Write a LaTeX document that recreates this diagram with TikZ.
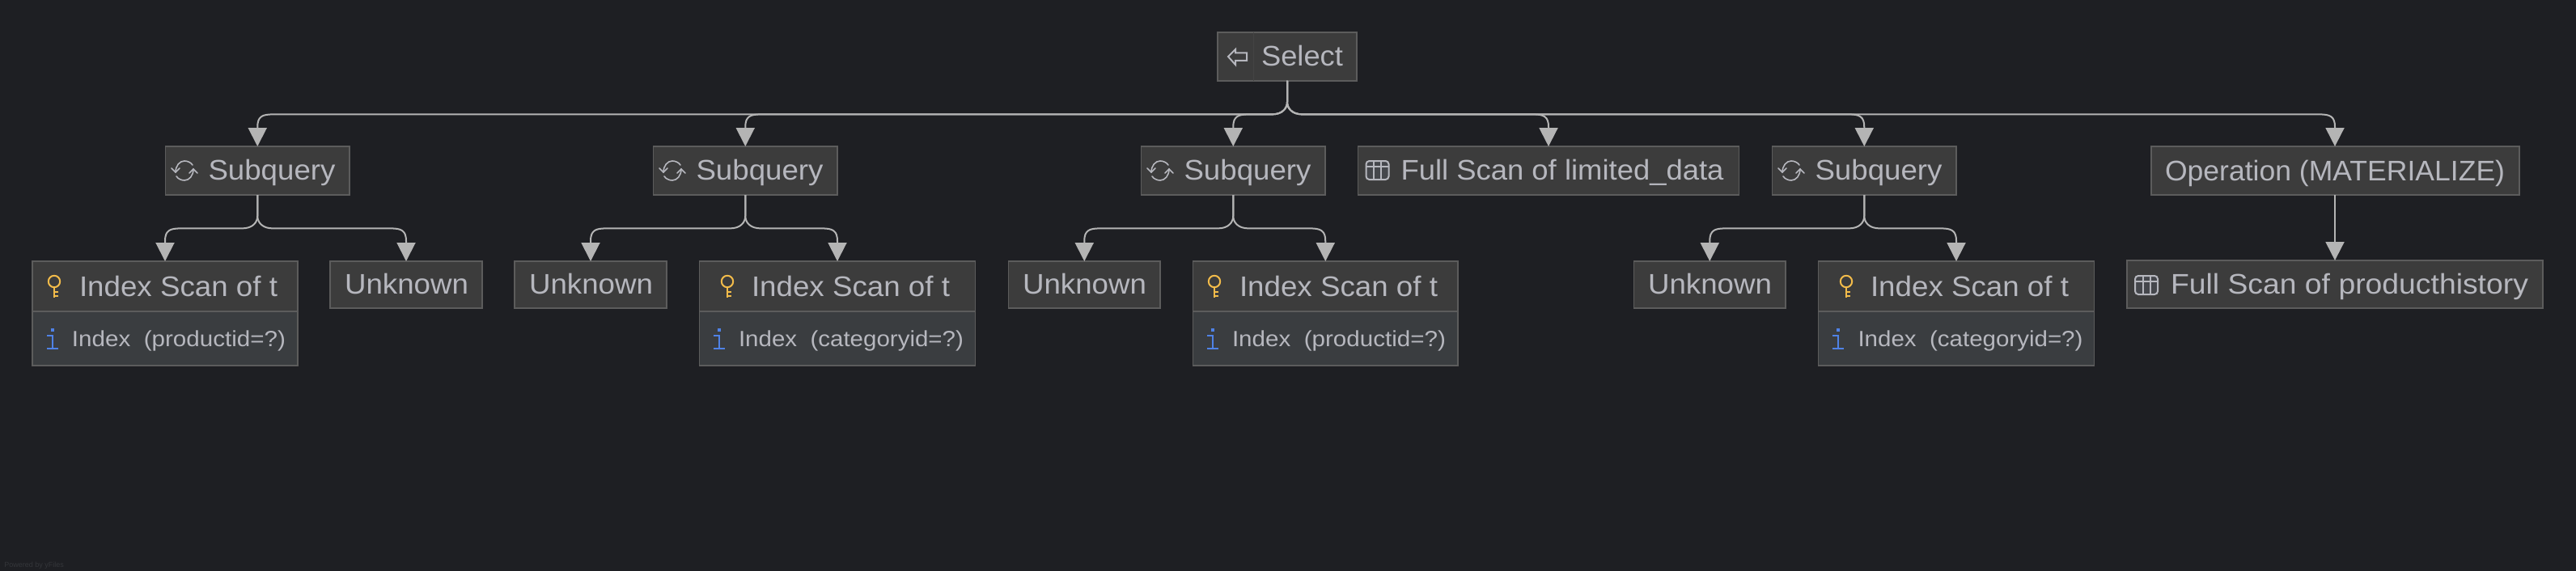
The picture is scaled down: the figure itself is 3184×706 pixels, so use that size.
\documentclass[tikz,border=0pt]{standalone}
\usepackage{graphicx}
\usepackage{fontspec}
\setmainfont{Liberation Sans}
\usetikzlibrary{arrows.meta,calc}
\definecolor{bgc}{HTML}{1E1F23}
\definecolor{boxc}{HTML}{3C3C3C}
\definecolor{subc}{HTML}{3A3D40}
\definecolor{linec}{HTML}{5C5C5C}
\definecolor{divc}{HTML}{6C6C6C}
\definecolor{txtc}{HTML}{B6B7BE}
\definecolor{edgec}{HTML}{B4B4B4}
\definecolor{keyc}{HTML}{F2BB4A}
\definecolor{infoc}{HTML}{4F82E6}
\definecolor{footc}{HTML}{34363A}
\definecolor{iconfill}{HTML}{45474C}
\newsavebox{\fitbox}
\newcommand{\fit}[2]{\sbox{\fitbox}{#2}\pgfmathsetmacro{\fitr}{(#1*0.5)/\wd\fitbox}\scalebox{\fitr}[1]{#2}}
\newcommand{\bx}[9]{%
 \pgfmathsetmacro{\bw}{(#4-#3)*0.5}\pgfmathsetmacro{\bh}{(#6-#5)*0.5}%
 \pgfmathsetmacro{\bd}{(#6-#8)*0.5}\pgfmathsetmacro{\bp}{(#7-#3)*0.5}%
 \node[#1] (#2) at (#3,#5) {\makebox[\bw pt][l]{\rule[-\bd pt]{0pt}{\bh pt}\hspace*{\bp pt}#9}};}
\newcommand{\edge}[2]{%
 \draw[edgeline] let \p1=(#1.south),\p2=(#2.north),\n1={ifthenelse(\x2>\x1,1,-1)} in
  (\p1) -- (\x1,\y1-13pt)
  .. controls (\x1,\y1-17pt) and ({\x1+\n1*3pt},\y1-20.7pt) .. ({\x1+\n1*9.5pt},\y1-20.7pt)
  -- ({\x2-\n1*9.5pt},\y1-20.7pt)
  .. controls ({\x2-\n1*3pt},\y1-20.7pt) and (\x2,\y1-22pt) .. (\x2,\y1-28.5pt)
  -- (\p2);}
\newcommand{\keyicon}[2]{\begin{scope}[shift={(#1,#2)},line width=1pt]
  \draw[keyc] (0,0) circle[radius=7.2];
  \draw[keyc] (0,7.2) -- (0,20) (0,13) -- (5,13) (0,18) -- (5,18);
 \end{scope}}
\newcommand{\infoicon}[2]{\begin{scope}[shift={(#1,#2)},line width=1pt]
  \fill[infoc] (4.5,0) rectangle (8.5,3.5);
  \draw[infoc] (0,8.5) -- (7,8.5) -- (7,25) (0,25) -- (14,25);
 \end{scope}}
\newcommand{\tableicon}[2]{\begin{scope}[shift={(#1,#2)},line width=1pt]
  \draw[fill=iconfill,draw=txtc,rounded corners=2pt] (0,0) rectangle (28,23);
  \draw[txtc] (0,7) -- (28,7) (9.5,0) -- (9.5,23) (18.5,0) -- (18.5,23);
 \end{scope}}
\newcommand{\syncicon}[2]{\begin{scope}[shift={(#1,#2)},line width=.8pt,line cap=round]
  \draw[txtc] (-11,2) .. controls (-11,-6) and (-6,-12) .. (0,-12) .. controls (4,-12) and (8,-10) .. (10,-7);
  \draw[txtc] (11,-2) .. controls (11,6) and (6,12) .. (0,12) .. controls (-4,12) and (-8,10) .. (-10,7);
  \draw[txtc] (-16,-3) -- (-11,2) -- (-6,-3);
  \draw[txtc] (16,3) -- (11,-2) -- (6,3);
 \end{scope}}
\tikzset{
 x=0.5pt,y=-0.5pt,
 boxbase/.style={draw=linec,line width=0.8pt,inner sep=0pt,outer sep=0pt,anchor=north west,text=txtc},
 headbox/.style={boxbase,fill=boxc,font=\fontsize{17.5pt}{21pt}\selectfont},
 subbox/.style={boxbase,fill=subc,font=\fontsize{13.6pt}{16pt}\selectfont},
 edgeline/.style={draw=edgec,line width=1pt,-{Triangle[width=11.5pt,length=11.5pt,fill=edgec]}},
 footnote/.style={text=footc,font=\fontsize{4.5pt}{5pt}\selectfont,anchor=base west,inner sep=0pt}
}
\begin{document}
\begin{tikzpicture}
\fill[bgc] (0,0) rectangle (3184,706);
\useasboundingbox (0,0) rectangle (3184,706);
% root
\bx{headbox}{sel}{1505}{1677}{40}{100}{1559}{82}{\fit{101}{Select}}
\draw[boxc!75!linec,line width=.5pt] (1549,40) -- (1549,100);
\draw[txtc,line width=1pt,line join=miter] (1518,70) -- (1527,61) -- (1527,65.5) -- (1541,65.5) -- (1541,75) -- (1527,75) -- (1527,80) -- cycle;
% second level
\bx{headbox}{sqa}{204.5}{432}{181}{241}{257.5}{222}{\fit{157}{Subquery}}
\bx{headbox}{sqb}{807.5}{1035}{181}{241}{860.5}{222}{\fit{157}{Subquery}}
\bx{headbox}{sqc}{1410.5}{1638}{181}{241}{1463.5}{222}{\fit{157}{Subquery}}
\bx{headbox}{sqd}{2190.5}{2418}{181}{241}{2243.5}{222}{\fit{157}{Subquery}}
\bx{headbox}{fl}{1678.5}{2149.5}{181}{241}{1731.5}{222}{\fit{399}{Full Scan of limited\_data}}
\bx{headbox}{op}{2659}{3114}{181}{241}{2676}{223}{\fit{420}{Operation (MATERIALIZE)}}
\syncicon{228}{211}\syncicon{831}{211}\syncicon{1434}{211}\syncicon{2214}{211}
\tableicon{1688.5}{199}
% third level
\bx{headbox}{ua}{408}{596}{323}{381}{426}{363}{\fit{153}{Unknown}}
\bx{headbox}{ub}{636}{824}{323}{381}{654}{363}{\fit{153}{Unknown}}
\bx{headbox}{uc}{1246.5}{1434}{323}{381}{1264}{363}{\fit{153}{Unknown}}
\bx{headbox}{ud}{2019.5}{2207}{323}{381}{2037}{363}{\fit{153}{Unknown}}
\bx{subbox}{xa}{40}{368}{385}{452}{89}{428}{\fit{264}{Index\ \ (productid=?)}}
\bx{subbox}{xb}{864.5}{1205.5}{385}{452}{913}{428}{\fit{278}{Index\ \ (categoryid=?)}}
\bx{subbox}{xc}{1474.5}{1802}{385}{452}{1523}{428}{\fit{264}{Index\ \ (productid=?)}}
\bx{subbox}{xd}{2247.5}{2588.5}{385}{452}{2296.5}{428}{\fit{278}{Index\ \ (categoryid=?)}}
\bx{headbox}{ia}{40}{368}{323}{385}{98}{366}{\fit{245}{Index Scan of t}}
\bx{headbox}{ib}{864.5}{1205.5}{323}{385}{929}{366}{\fit{245}{Index Scan of t}}
\bx{headbox}{ic}{1474.5}{1802}{323}{385}{1532}{366}{\fit{245}{Index Scan of t}}
\bx{headbox}{id}{2247.5}{2588.5}{323}{385}{2312}{366}{\fit{245}{Index Scan of t}}
\keyicon{67}{348}\keyicon{899}{348}\keyicon{1501}{348}\keyicon{2282}{348}
\infoicon{58}{406}\infoicon{882}{406}\infoicon{1492}{406}\infoicon{2265}{406}
\bx{headbox}{fp}{2629}{3143}{322}{381}{2683}{363}{\fit{442}{Full Scan of producthistory}}
\tableicon{2639}{341}
% connectors
\edge{sel}{sqa}\edge{sel}{sqb}\edge{sel}{sqc}\edge{sel}{fl}\edge{sel}{sqd}
\edge{sqa}{ia}\edge{sqa}{ua}
\edge{sqb}{ub}\edge{sqb}{ib}
\edge{sqc}{uc}\edge{sqc}{ic}
\edge{sqd}{ud}\edge{sqd}{id}
\coordinate (opx) at (2886,100);
\draw[edgeline] let \p1=(sel.south),\p2=(op.north),\p3=(opx) in
  (\p1) -- (\x1,\y1-13pt)
  .. controls (\x1,\y1-17pt) and (\x1+3pt,\y1-20.7pt) .. (\x1+9.5pt,\y1-20.7pt)
  -- (\x3-9.5pt,\y1-20.7pt)
  .. controls (\x3-3pt,\y1-20.7pt) and (\x3,\y1-22pt) .. (\x3,\y1-28.5pt)
  -- (\x3,\y2);
\draw[edgeline] (op.south -| opx) -- (fp.north -| opx);
\node[footnote] (pw) at (5,701) {Powered by yFiles};
\end{tikzpicture}
\end{document}
